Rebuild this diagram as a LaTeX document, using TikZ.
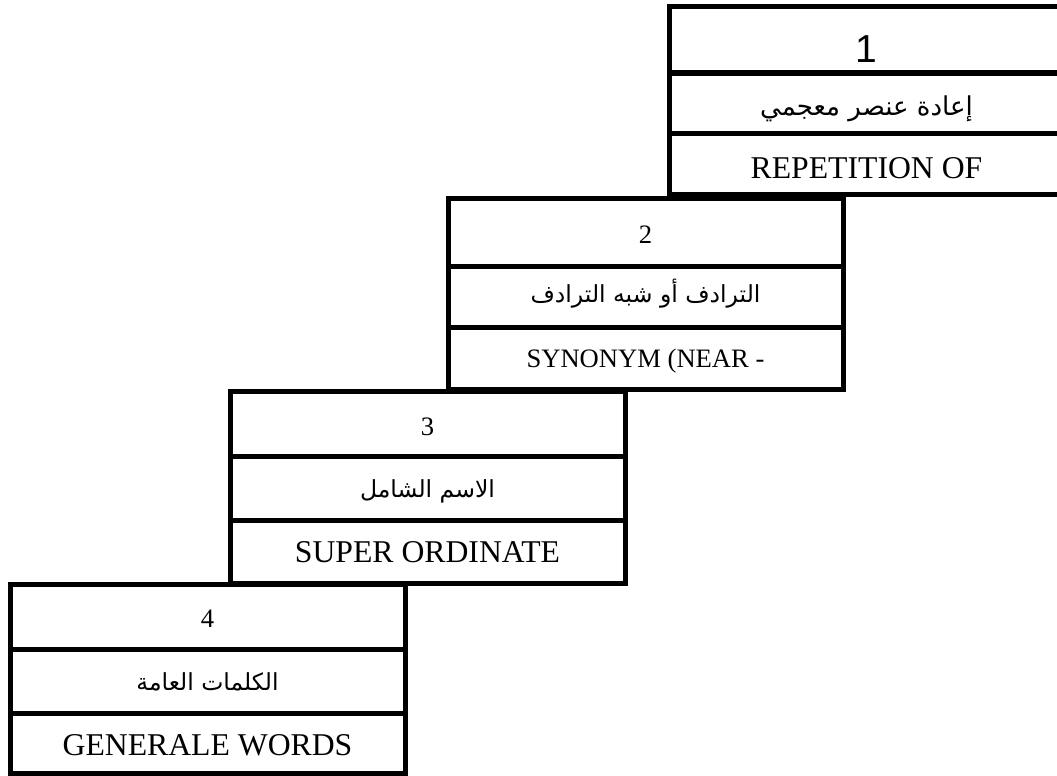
\documentclass[tikz,border=0pt]{standalone}
\usepackage{fontspec}
\setmainfont{Liberation Serif}
\newfontfamily\arabicfont[Script=Arabic]{DejaVu Sans}
\newfontfamily\digitfont{Liberation Sans}
\TeXXeTstate=1
\usetikzlibrary{positioning}

\tikzset{
  cell/.style={draw, line width=5pt, minimum width=395pt, inner sep=0pt, outer sep=0pt},
  numtxt/.style={anchor=base, font=\fontsize{26.6}{30}\selectfont},
  artxt/.style={anchor=base, font=\arabicfont\fontsize{23.5}{28}\selectfont},
  entxt/.style={anchor=base, font=\fontsize{31.7}{36}\selectfont},
}

\begin{document}
\begin{tikzpicture}[x=1pt, y=-1pt]
  \useasboundingbox (0,0) rectangle (1057,776);
  \clip (0,0) rectangle (1057,776);

  % Step 1
  \node[cell, minimum height=66pt, anchor=north west] (num1) at (669,7) {};
  \node[cell, minimum height=60pt, below=0pt of num1] (ara1) {};
  \node[cell, minimum height=61pt, below=0pt of ara1] (eng1) {};
  \node[numtxt, font=\digitfont\fontsize{39}{44}\selectfont] (num1txt) at ([yshift=10pt]num1.south) {1};
  \node[artxt, font=\arabicfont\fontsize{26}{30}\selectfont] (ara1txt) at ([yshift=18pt]ara1.south) {\beginR إعادة عنصر معجمي\endR};
  \node[entxt] (eng1txt) at ([yshift=16pt]eng1.south) {REPETITION OF};

  % Step 2
  \node[cell, minimum height=68pt, anchor=north west] (num2) at (448,198) {};
  \node[cell, minimum height=61pt, below=0pt of num2] (ara2) {};
  \node[cell, minimum height=62pt, below=0pt of ara2] (eng2) {};
  \node[numtxt] (num2txt) at ([yshift=23pt]num2.south) {2};
  \node[artxt] (ara2txt) at ([yshift=25pt]ara2.south) {\beginR الترادف أو شبه الترادف\endR};
  \node[entxt, font=\fontsize{26.6}{30}\selectfont] (eng2txt) at ([yshift=22pt]eng2.south) {SYNONYM (NEAR -};

  % Step 3
  \node[cell, minimum height=65pt, anchor=north west] (num3) at (230,391) {};
  \node[cell, minimum height=64pt, below=0pt of num3] (ara3) {};
  \node[cell, minimum height=63pt, below=0pt of ara3] (eng3) {};
  \node[numtxt] (num3txt) at ([yshift=21pt]num3.south) {3};
  \node[artxt] (ara3txt) at ([yshift=23pt]ara3.south) {\beginR الاسم الشامل\endR};
  \node[entxt] (eng3txt) at ([yshift=21pt]eng3.south) {SUPER ORDINATE};

  % Step 4
  \node[cell, minimum height=65pt, anchor=north west] (num4) at (10,584) {};
  \node[cell, minimum height=64pt, below=0pt of num4] (ara4) {};
  \node[cell, minimum height=60pt, below=0pt of ara4] (eng4) {};
  \node[numtxt] (num4txt) at ([yshift=22pt]num4.south) {4};
  \node[artxt] (ara4txt) at ([yshift=23pt]ara4.south) {\beginR الكلمات العامة\endR};
  \node[entxt] (eng4txt) at ([yshift=18pt]eng4.south) {GENERALE WORDS};
\end{tikzpicture}
\end{document}
